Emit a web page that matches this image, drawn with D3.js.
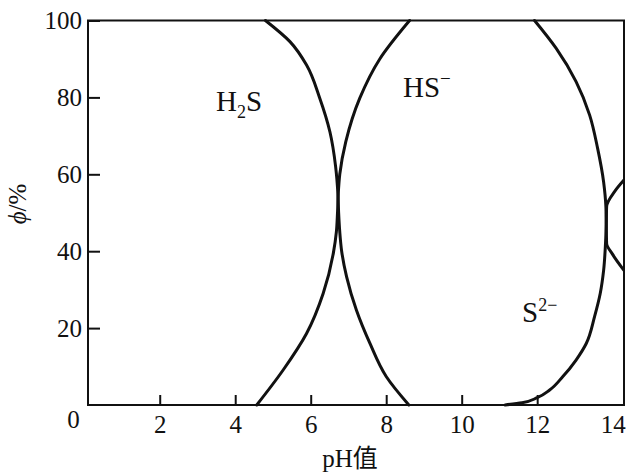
<!DOCTYPE html>
<html>
<head>
<meta charset="utf-8">
<script src="https://cdn.jsdelivr.net/npm/d3@7"></script>
<style>
  html, body { margin: 0; padding: 0; background: #fff; }
  svg { display: block; }
  text { font-family: "Liberation Serif", "Noto Sans CJK SC", serif; fill: #111; }
</style>
</head>
<body>
<svg id="chart" width="633" height="474"></svg>
<script>
// ---- data, each curve ordered from high to low φ ----
const xTicks = [2, 4, 6, 8, 10, 12, 14];
const yTicks = [20, 40, 60, 80, 100];

const h2sPH  = [4.8, 5.45, 5.89, 6.24, 6.51, 6.66, 6.72, 6.74, 6.77, 6.82, 6.95, 7.21, 7.57, 8.0, 8.6];
const h2sPhi = [100, 94.5, 88.4, 79.8, 71, 62, 55, 50, 45, 40, 33.4, 24.7, 16, 7.4, 0];

const hsUpPH  = [8.62, 7.83, 7.3, 6.93, 6.77, 6.73, 6.71, 6.68, 6.6, 6.33, 5.89, 5.27, 4.57];
const hsUpPhi = [100, 90, 79.8, 68.5, 60, 55, 50, 45, 39.5, 29, 18.6, 9.1, 0];

const hsDownPH  = [11.93, 12.5, 13.03, 13.39, 13.6, 13.76, 13.82, 13.83, 13.84, 13.99, 14.3];
const hsDownPhi = [100, 92.8, 84.1, 75.4, 66.8, 58, 51.6, 47, 42, 39.3, 35];

const s2PH  = [14.3, 14.05, 13.84, 13.83, 13.81, 13.76, 13.67, 13.52, 13.3, 13.03, 12.68, 12.33, 12.0, 11.6, 11.15];
const s2Phi = [58.5, 55.5, 51.6, 47, 42, 35, 29, 23, 16, 11.7, 7.4, 3.9, 1.9, 0.6, 0];

// ---- chart ----
const svg = d3.select("#chart");
svg.append("rect").attr("width", 633).attr("height", 474).attr("fill", "#fff");

const x = d3.scaleLinear().domain([0.1, 14.3]).range([88, 624]);
const y = d3.scaleLinear().domain([0, 100]).range([405, 20.5]);

const [x0, x1] = x.range();
const [yb, yt] = y.range();

svg.append("defs").append("clipPath").attr("id", "plotclip")
  .append("rect").attr("x", x0).attr("y", yt - 2).attr("width", x1 - x0).attr("height", yb - yt + 4);

// frame
svg.append("rect")
  .attr("x", x0).attr("y", yt).attr("width", x1 - x0).attr("height", yb - yt)
  .attr("fill", "none").attr("stroke", "#111").attr("stroke-width", 2);

// axes
const yAxis = d3.axisLeft(y).tickValues(yTicks).tickSize(-12).tickPadding(6);
const gy = svg.append("g").attr("transform", `translate(${x0},0)`).call(yAxis);
gy.select(".domain").remove();
gy.selectAll(".tick line").attr("stroke", "#111").attr("stroke-width", 2);
gy.selectAll(".tick text").attr("font-size", 25).attr("font-family", "Liberation Serif").attr("fill", "#111");

const xAxis = d3.axisBottom(x).tickValues(xTicks).tickSize(-10).tickPadding(10);
const gx = svg.append("g").attr("transform", `translate(0,${yb})`).call(xAxis);
gx.select(".domain").remove();
gx.selectAll(".tick line").attr("stroke", "#111").attr("stroke-width", 2)
  .filter(d => d === 14).remove();
gx.selectAll(".tick text").attr("font-size", 25).attr("font-family", "Liberation Serif").attr("fill", "#111");

// origin label
svg.append("text").attr("x", 73.5).attr("y", 428).attr("text-anchor", "middle")
  .attr("font-size", 25).text("0");

// axis titles
svg.append("text").attr("x", 350).attr("y", 467).attr("text-anchor", "middle")
  .attr("font-size", 25).text("pH值");

const yt2 = svg.append("text").attr("transform", "translate(26,204) rotate(-90)")
  .attr("text-anchor", "middle").attr("font-size", 25);
yt2.append("tspan").attr("font-style", "italic").text("ϕ");
yt2.append("tspan").text("/%");

// curves (x as a smooth monotone function of φ)
const line = d3.line().x(d => x(d[0])).y(d => y(d[1])).curve(d3.curveMonotoneY);
const curves = [
  d3.zip(h2sPH, h2sPhi),
  d3.zip(hsUpPH, hsUpPhi),
  d3.zip(hsDownPH, hsDownPhi),
  d3.zip(s2PH, s2Phi)
];
svg.append("g").attr("clip-path", "url(#plotclip)")
  .selectAll("path").data(curves).join("path")
  .attr("d", line)
  .attr("fill", "none").attr("stroke", "#111").attr("stroke-width", 3)
  .attr("stroke-linejoin", "round").attr("stroke-linecap", "round");

// species labels
const t1 = svg.append("text").attr("x", 216).attr("y", 111).attr("font-size", 29);
t1.append("tspan").text("H");
t1.append("tspan").attr("font-size", 18).attr("dy", 7).text("2");
t1.append("tspan").attr("dy", -7).text("S");

const t2 = svg.append("text").attr("x", 403).attr("y", 97).attr("font-size", 29);
t2.append("tspan").text("HS");
t2.append("tspan").attr("font-size", 19).attr("dy", -12).text("−");

const t3 = svg.append("text").attr("x", 522).attr("y", 322).attr("font-size", 29);
t3.append("tspan").text("S");
t3.append("tspan").attr("font-size", 18).attr("dy", -11).text("2−");
</script>
</body>
</html>
